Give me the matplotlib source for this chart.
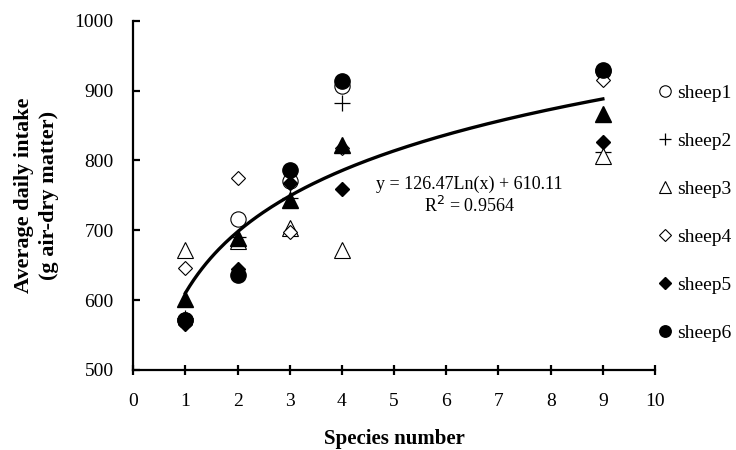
import numpy as np
import matplotlib
matplotlib.use("Agg")
import matplotlib.pyplot as plt

plt.rcParams['font.family'] = ['Liberation Serif', 'DejaVu Serif']

# species number on x
species = [1, 2, 3, 4, 9]

# intake per sheep
sheep1 = [572, 716, 770, 906, 928]
sheep2 = [575, 690, 746, 882, 812]
sheep3 = [672, 685, 703, 671, 806]
sheep4 = [646, 775, 697, 818, 915]
sheep5 = [566, 644, 767, 759, 826]
sheep6 = [571, 636, 786, 913, 930]
# filled triangles (mean, not in legend)
meanIntake = [602, 689, 743, 822, 867]

# trendline coefficients (from the chart label)
slope = 126.47
intercept = 610.11
rSquared = 0.9564

fig = plt.figure(figsize=(7.36, 4.5), dpi=100)
ax = fig.add_axes([0.181, 0.178, 0.709, 0.776])

ax.plot(species, sheep1, linestyle='none', marker='o', markersize=11,
        markerfacecolor='white', markeredgecolor='black', markeredgewidth=0.8, label='sheep1')
ax.plot(species, sheep2, linestyle='none', marker='+', markersize=12,
        color='black', markeredgewidth=0.9, label='sheep2')
ax.plot(species, sheep3, linestyle='none', marker='^', markersize=11.5,
        markerfacecolor='white', markeredgecolor='black', markeredgewidth=0.8, label='sheep3')
ax.plot(species, sheep4, linestyle='none', marker='D', markersize=7.5,
        markerfacecolor='white', markeredgecolor='black', markeredgewidth=0.8, label='sheep4')
ax.plot(species, sheep5, linestyle='none', marker='D', markersize=7.5,
        color='black', label='sheep5')
ax.plot(species, sheep6, linestyle='none', marker='o', markersize=11,
        color='black', label='sheep6')
ax.plot(species, meanIntake, linestyle='none', marker='^', markersize=11.5,
        color='black', label='_nolegend_')

xFit = np.linspace(min(species), max(species), 200)
ax.plot(xFit, slope * np.log(xFit) + intercept, color='black', linewidth=2.4)

ax.text(6.44, 765, "y = 126.47Ln(x) + 610.11", fontsize=13, ha='center', va='center')
ax.text(6.44, 735, "R$^2$ = %.4f" % rSquared, fontsize=13, ha='center', va='center')

ax.set_xlim(0, 10)
ax.set_ylim(500, 1000)
ax.set_xticks(range(0, 11))
ax.set_yticks(range(500, 1001, 100))

ax.spines['top'].set_visible(False)
ax.spines['right'].set_visible(False)
ax.spines['left'].set_linewidth(1.6)
ax.spines['bottom'].set_linewidth(1.6)
ax.tick_params(axis='y', direction='in', length=5, width=1.6, labelsize=14, pad=14)
ax.tick_params(axis='x', direction='inout', length=7, width=1.6, labelsize=14, pad=13)

ax.set_xlabel("Species number", fontsize=15, fontweight='bold', labelpad=14)
ax.set_ylabel("Average daily intake\n(g air-dry matter)", fontsize=16,
              fontweight='bold', linespacing=1.3)
ax.yaxis.set_label_coords(-0.143, 0.5)

fig.legend(loc='upper left', bbox_to_anchor=(0.883, 0.83), frameon=False,
           fontsize=14, markerscale=0.75, handlelength=0.8, handletextpad=0.2,
           labelspacing=1.56, borderaxespad=0)

fig.savefig("out.png", dpi=100)
